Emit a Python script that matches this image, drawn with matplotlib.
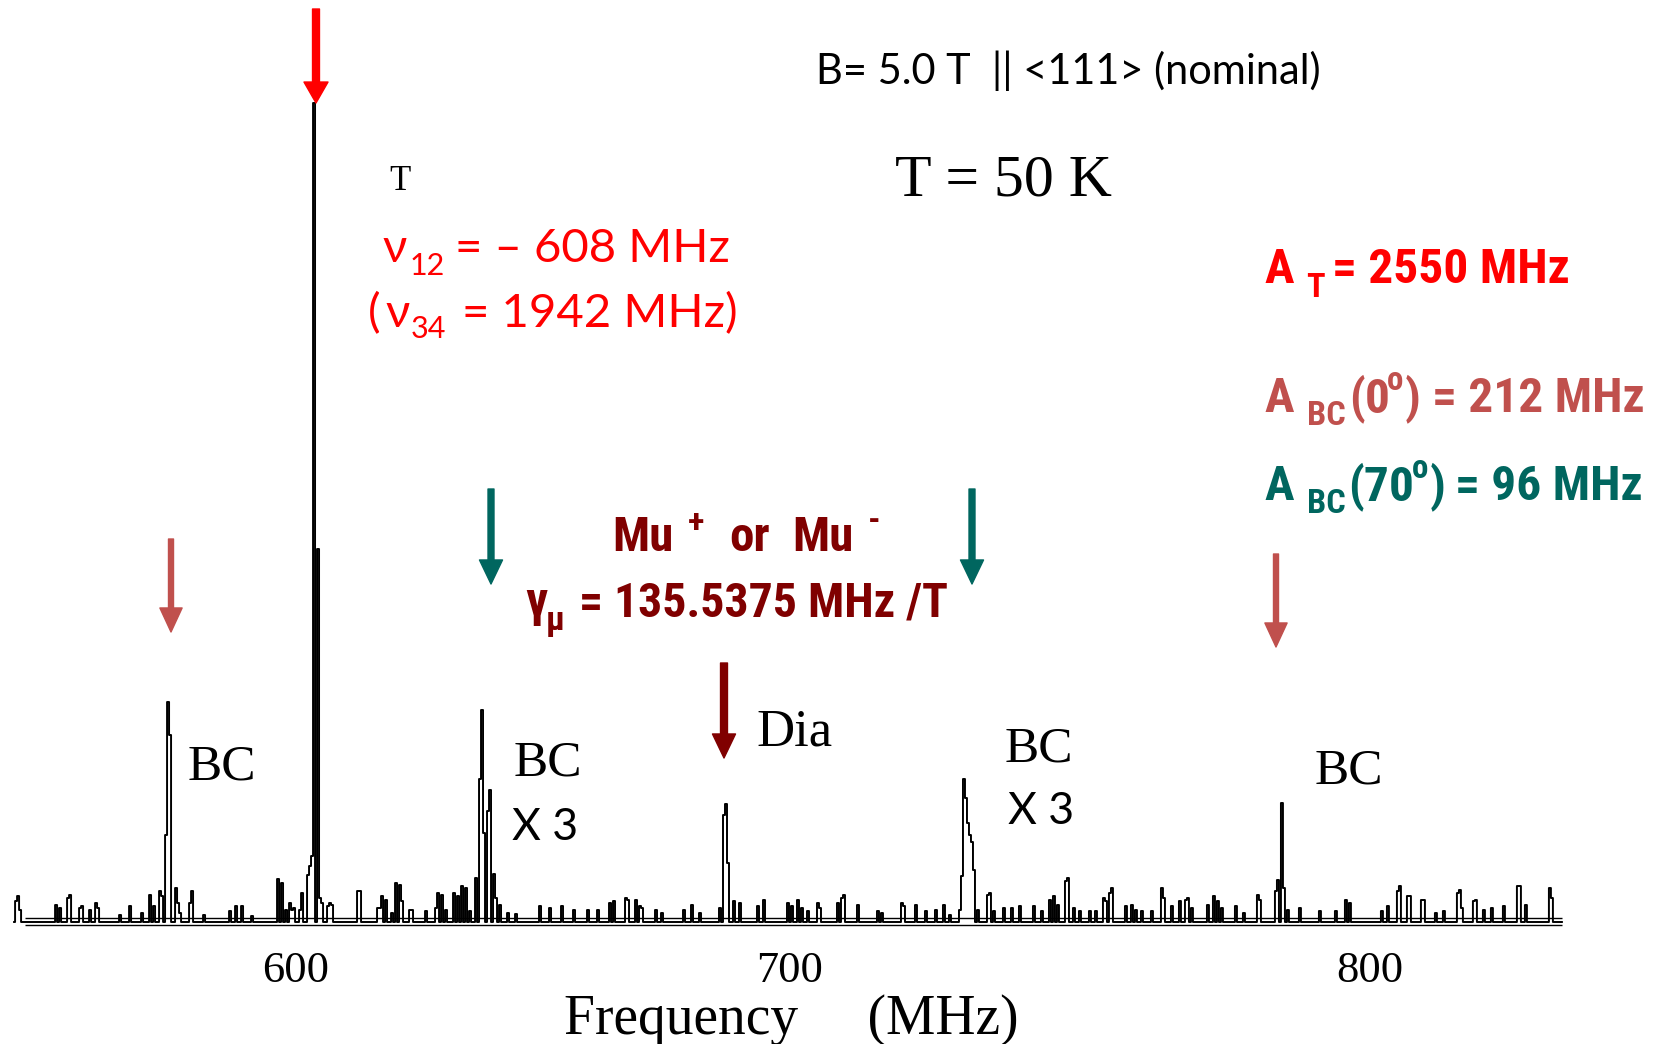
import matplotlib
matplotlib.use('Agg')
import matplotlib.pyplot as plt
import numpy as np
from matplotlib import font_manager

# Spectrum: positions in MHz, heights in plot units above baseline
peak_freq = [575.8, 576.35, 576.72, 603.5, 604.1,
             634.1, 634.6, 635.0, 635.6, 636.3, 636.9,
             679.7, 680.1, 680.5,
             724.0, 724.4, 724.8, 725.2, 725.6, 726.0, 726.4,
             783.6, 784.0]
peak_height = [83, 216, 183, 815, 369,
               139, 208, 85, 107, 128, 44,
               103, 114, 55,
               42, 139, 120, 95, 83, 76, 48,
               115, 30]

noise_freq = [547.7, 548.1, 548.4, 548.8, 555.5, 556.1, 557.5, 557.9, 559.8, 560.2,
              561.6, 562.6, 563.1, 567.2, 569.1, 571.5, 572.8, 573.4, 574.7, 575.1,
              577.5, 577.9, 578.4, 580.4, 580.8, 582.7, 587.7, 589.0, 590.1, 592.0,
              596.7, 597.4, 598.3, 598.9, 599.4, 599.8, 600.9, 601.3, 602.2, 602.6,
              603.0, 604.5, 604.9, 605.8, 606.3, 606.7, 611.55, 611.9, 615.1, 615.6,
              616.2, 616.6, 617.9, 618.8, 619.2, 619.7, 621.2, 621.6, 624.4, 625.9,
              626.4, 627.2, 628.1, 629.6, 630.2, 631.1, 631.8, 632.4, 633.7, 637.4,
              638.0, 639.5, 641.0, 645.4, 647.3, 649.5, 651.6, 654.2, 656.1, 658.5,
              659.4, 661.6, 662.0, 663.5, 664.1, 664.6, 667.2, 668.3, 672.1, 673.7,
              675.2, 679.0, 681.75, 682.7, 685.85, 687.0, 691.6, 692.4, 693.5, 694.2,
              695.2, 697.2, 697.6, 700.9, 701.7, 702.2, 704.5, 708.2, 709.3, 712.85,
              713.2, 715.3, 715.6, 717.5, 719.0, 720.5, 721.8, 723.65, 727.0, 728.7,
              729.1, 729.8, 731.7, 733.3, 734.8, 737.25, 738.9, 740.4, 741.3, 741.9,
              743.2, 743.6, 744.7, 746.0, 747.9, 748.8, 750.3, 750.7, 751.6, 752.1,
              754.4, 755.7, 756.6, 757.7, 759.4, 761.3, 761.8, 763.3, 764.6, 765.55,
              766.1, 766.85, 769.65, 770.8, 771.5, 772.4, 774.9, 776.7, 779.1, 779.5,
              782.3, 782.7, 784.55, 787.0, 790.7, 793.5, 795.7, 796.3, 802.2, 803.2,
              805.2, 805.6, 806.9, 807.3, 809.7, 810.1, 812.1, 813.6, 816.2, 816.6,
              817.3, 819.2, 819.6, 821.05, 822.7, 824.8, 827.4, 827.8, 829.2, 833.5,
              833.9]
noise_height = [17, 22, 12, 8, 13, 10, 20, 23, 10, 12,
                8, 15, 10, 3, 12, 5, 23, 12, 27, 22,
                30, 15, 5, 15, 27, 3, 7, 12, 12, 2,
                39, 35, 8, 15, 8, 10, 8, 25, 43, 52,
                62, 20, 15, 12, 15, 13, 27, 27, 10, 10,
                22, 18, 5, 35, 33, 17, 8, 8, 7, 10,
                25, 23, 8, 25, 22, 32, 30, 7, 40, 20,
                13, 5, 4, 12, 10, 12, 8, 8, 8, 15,
                17, 20, 18, 18, 12, 10, 8, 5, 8, 13,
                5, 10, 17, 15, 12, 18, 15, 12, 18, 10,
                7, 15, 10, 15, 20, 23, 13, 7, 5, 15,
                12, 12, 13, 7, 8, 13, 3, 8, 8, 23,
                25, 7, 10, 10, 12, 12, 7, 18, 22, 13,
                37, 40, 10, 7, 7, 7, 20, 17, 25, 30,
                12, 13, 8, 7, 7, 30, 20, 12, 17, 18,
                20, 10, 13, 22, 17, 10, 12, 5, 23, 18,
                27, 38, 8, 10, 7, 7, 18, 15, 7, 12,
                27, 32, 22, 22, 18, 18, 5, 7, 25, 28,
                10, 17, 18, 8, 10, 12, 32, 32, 13, 30,
                20]

tick_pos = [600, 692, 800]
tick_labels = ['600', '700', '800']

W, H = 1656, 1044
BASE = 918  # baseline row in the picture

installed = {f.name for f in font_manager.fontManager.ttflist}
narrow_candidates = ['Liberation Sans Narrow', 'Roboto Condensed', 'DejaVu Sans Condensed',
                     'Open Sans Condensed', 'Roboto']
narrow = next(n for n in narrow_candidates if n in installed or n == 'Roboto')
sans = ['Lato', 'DejaVu Sans']
bold_narrow = [narrow, 'DejaVu Sans']
serif = ['Liberation Serif', 'DejaVu Serif']

plt.rcParams['font.family'] = sans

red = '#FF0000'
rose = '#C0504D'
teal = '#00665F'
maroon = '#800000'


def fx(px):
    # horizontal pixel -> MHz, calibrated on the 600 and 800 labels
    return 600 + (px - 296) / 5.37


fig = plt.figure(figsize=(W / 100, H / 100), dpi=100, facecolor='white')
renderer = fig.canvas.get_renderer()
ax = fig.add_axes([0, (H - BASE) / H, 1, BASE / H])
ax.set_xlim(fx(0), fx(W))
ax.set_ylim(0, BASE)
for s in ax.spines.values():
    s.set_visible(False)
ax.set_yticks([])
ax.set_xticks(tick_pos, tick_labels, family=serif, fontsize=32)
ax.tick_params(axis='x', length=0, pad=24)
ax.set_xlabel('Frequency     (MHz)', family=serif, fontsize=40, va='baseline')
ax.xaxis.set_label_coords(791 / W, (BASE - 1034) / BASE)

# binned spectrum
step = 0.3724
freq = np.arange(547.5, 835.8, step)
counts = np.full(freq.size, -4.0)
for fs, hs in [(noise_freq, noise_height), (peak_freq, peak_height)]:
    idx = np.round((np.array(fs) - freq[0]) / step).astype(int)
    np.maximum.at(counts, idx, np.array(hs, dtype=float))

ax.hlines([0, -7], 549.5, 835.75, color='black', lw=1.0, clip_on=False)
ax.plot(freq, counts, drawstyle='steps-mid', color='black', lw=1.4, clip_on=False)


def down_arrow(px, top, tip, color, shaft, head_w, head_l):
    ax.annotate('', xy=(fx(px), BASE - tip), xytext=(fx(px), BASE - top),
                arrowprops=dict(arrowstyle=f'simple,head_length={head_l},head_width={head_w},tail_width={shaft}',
                                color=color, shrinkA=0, shrinkB=0, mutation_scale=1))


down_arrow(316, 9, 103, red, 5.0, 17.3, 15.1)
down_arrow(171, 539, 632, rose, 3.6, 16.0, 17.3)
down_arrow(1276, 554, 647, rose, 3.6, 16.0, 17.3)
down_arrow(491, 489, 584, teal, 4.3, 16.6, 17.3)
down_arrow(972, 489, 584, teal, 4.3, 16.6, 17.3)
down_arrow(724, 663, 758, maroon, 5.0, 16.6, 17.3)


def text_width(s, size, family, weight='normal'):
    t = fig.text(0, 0, s, fontsize=size, family=family, weight=weight)
    w = t.get_window_extent(renderer=renderer).width
    t.remove()
    return w


# scale factors so the substitute fonts fill the same width as the original ones
kb = min(1.1, 238 / text_width('= 2550 MHz', 39, bold_narrow, 'bold'))
km = min(1.1, 369 / text_width('= 135.5375 MHz /T', 36, bold_narrow, 'bold'))
ks = min(1.0, 506 / text_width('B= 5.0 T  || <111> (nominal)', 33, sans))


def put(px, py, s, size, color='black', family=sans, weight='normal'):
    fig.text(px / W, 1 - py / H, s, fontsize=size, color=color, family=family,
             weight=weight, ha='left', va='baseline')


def putb(px, py, s, size, color, k=None):
    put(px, py, s, size * (kb if k is None else k), color, bold_narrow, 'bold')


# header
put(816, 84, 'B= 5.0 T  || <111> (nominal)', 33 * ks)
put(389, 190, 'T', 25, family=serif)
put(895, 196, 'T = 50 K', 43, family=serif)

# nu lines
put(382, 262, 'ν', 34, red)
put(410, 275, '12', 22, red)
put(455, 262, '= – 608 MHz', 34, red)
put(368, 327, '(', 34, red)
put(385, 327, 'ν', 34, red)
put(411, 338, '34', 22, red)
put(462, 327, '= 1942 MHz)', 34, red)

# hyperfine constants
putb(1264, 283, 'A', 39, red)
putb(1306, 297, 'T', 27, red)
putb(1332, 283, '= 2550 MHz', 39, red)

putb(1264, 412, 'A', 39, rose)
putb(1307, 425, 'BC', 27, rose)
putb(1349, 412, '(0', 39, rose)
putb(1387, 390, 'o', 26, rose)
putb(1405, 412, ')', 39, rose)
putb(1432, 412, '= 212 MHz', 39, rose)

putb(1264, 500, 'A', 39, teal)
putb(1307, 513, 'BC', 27, teal)
putb(1348, 500, '(70', 39, teal)
putb(1412, 478, 'o', 26, teal)
putb(1430, 500, ')', 39, teal)
putb(1455, 500, '= 96 MHz', 39, teal)

# muonium charge states
putb(612, 551, 'Mu', 37, maroon, km)
putb(688, 532, '+', 26, maroon, km)
putb(729, 551, 'or', 37, maroon, km)
putb(792, 551, 'Mu', 37, maroon, km)
putb(868, 530, '-', 26, maroon, km)
putb(525, 616, 'γ', 37, maroon, km)
putb(546, 630, 'μ', 26, maroon, km)
putb(579, 616, '= 135.5375 MHz /T', 36, maroon, km)

# line labels
put(188, 779, 'BC', 37, family=serif)
put(514, 776, 'BC', 37, family=serif)
put(512, 840, 'X 3', 32)
put(756, 745, 'Dia', 38, family=serif)
put(1005, 762, 'BC', 37, family=serif)
put(1008, 824, 'X 3', 32)
put(1315, 784, 'BC', 37, family=serif)

fig.savefig('out.png', dpi=100, facecolor='white')
